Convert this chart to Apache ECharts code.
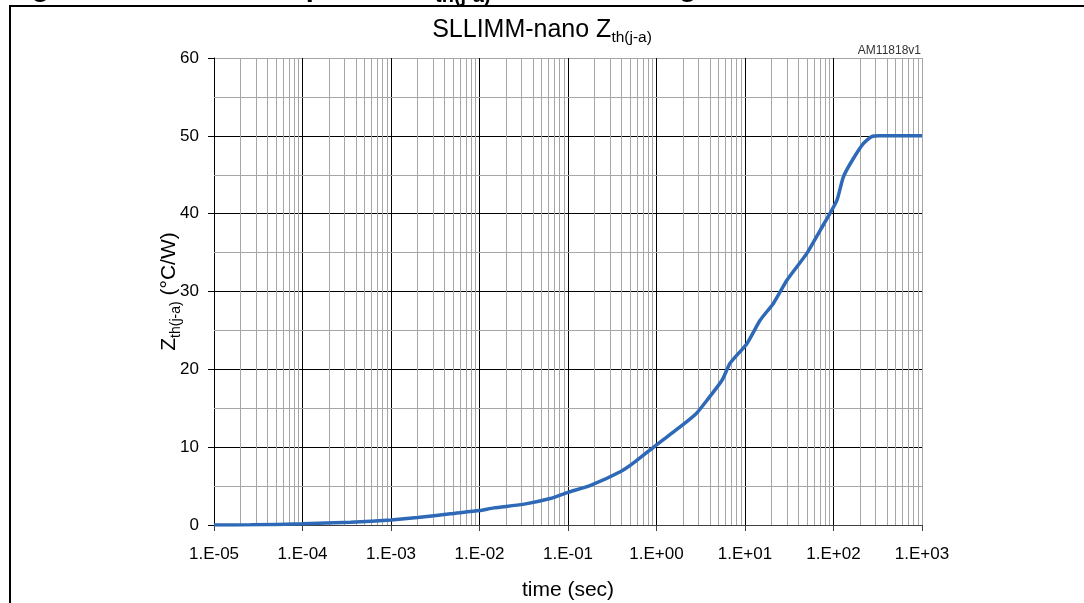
<!DOCTYPE html>
<html>
<head>
<meta charset="utf-8">
<script src="https://cdn.jsdelivr.net/npm/echarts@6/dist/echarts.min.js"></script>
<style>
  html, body { margin: 0; padding: 0; background: #fff; }
  #chart { width: 1084px; height: 603px; }
</style>
</head>
<body>
<div id="chart"></div>
<script>
// ---- data ----
const timeSec = [1e-5, 2.6e-5, 1e-4, 3.5e-4, 1e-3, 2e-3, 4.7e-3, 1e-2, 1.45e-2, 3.1e-2, 6.3e-2,
  0.1, 0.18, 0.4, 0.57, 1.0, 1.8, 2.8, 3.7, 5.5, 6.8, 10.5, 14.8, 21, 30, 50, 71, 91, 110,
  129, 160, 217, 270, 335, 1000];
const zthValues = [0.0, 0.02, 0.15, 0.35, 0.65, 0.95, 1.45, 1.85, 2.2, 2.65, 3.4,
  4.2, 5.1, 6.9, 8.1, 10.3, 12.5, 14.3, 16.0, 18.6, 20.8, 23.3, 26.3, 28.5, 31.5, 34.9, 37.9, 40.0, 41.8,
  44.7, 46.7, 49.0, 49.9, 50.0, 50.0];
const yMinorLines = [5, 15, 25, 35, 45, 55];
const decadeExponents = [-5, -4, -3, -2, -1, 0, 1, 2];
const minorMultipliers = [2, 3, 4, 5, 6, 7, 8, 9];

const seriesData = timeSec.map((t, i) => [t, zthValues[i]]);
const xMinorLines = [];
decadeExponents.forEach(e => minorMultipliers.forEach(m => xMinorLines.push(m * Math.pow(10, e))));

const FONT = '"Liberation Sans", Arial, sans-serif';
const chart = echarts.init(document.getElementById('chart'), null, { renderer: 'canvas' });

function fmtExp(v) {
  const e = Math.round(Math.log10(v));
  const s = e < 0 ? '-' : '+';
  const a = Math.abs(e);
  return '1.E' + s + (a < 10 ? '0' + a : '' + a);
}

const option = {
  backgroundColor: '#ffffff',
  animation: false,
  title: {
    text: '{m|SLLIMM-nano Z}{s|th(j-a)}',
    left: 'center',
    top: 14,
    padding: 0,
    textStyle: {
      fontWeight: 'normal',
      rich: {
        m: { fontFamily: FONT, fontSize: 25, fontWeight: 'normal', lineHeight: 32, color: '#000', verticalAlign: 'middle' },
        s: { fontFamily: FONT, fontSize: 15.5, fontWeight: 'normal', lineHeight: 15, color: '#000', verticalAlign: 'bottom' }
      }
    }
  },
  grid: { left: 214, right: 162, top: 58, bottom: 78, containLabel: false, outerBoundsMode: 'none' },
  xAxis: {
    type: 'log',
    logBase: 10,
    min: 1e-5,
    max: 1e3,
    splitNumber: 8,
    name: 'time (sec)',
    nameLocation: 'middle',
    nameGap: 55,
    nameMoveOverlap: false,
    nameTextStyle: { fontFamily: FONT, fontSize: 21, color: '#000' },
    axisLine: { show: true, lineStyle: { color: '#404040', width: 1 } },
    axisTick: { show: true, length: 6, inside: false, lineStyle: { color: '#404040' } },
    axisLabel: { fontFamily: FONT, fontSize: 17, color: '#000', margin: 21, formatter: fmtExp },
    splitLine: { show: true, lineStyle: { color: ['#000', '#000', '#000', '#000', '#000', '#000', '#000', '#000', '#a6a6a6'], width: 1 } },
    minorTick: { show: false },
    minorSplitLine: { show: false }
  },
  yAxis: {
    type: 'value',
    min: 0,
    max: 60,
    interval: 10,
    name: '{z|Z}{s|th(j-a)}{z| (°C/W)}',
    nameLocation: 'middle',
    nameGap: 31,
    nameMoveOverlap: false,
    nameTextStyle: {
      rich: {
        z: { fontFamily: FONT, fontSize: 21, lineHeight: 28, color: '#000', verticalAlign: 'middle' },
        s: { fontFamily: FONT, fontSize: 14, lineHeight: 14, color: '#000', verticalAlign: 'bottom' }
      }
    },
    axisLine: { show: true, lineStyle: { color: '#000', width: 1 } },
    axisTick: { show: true, length: 6, inside: false, lineStyle: { color: '#000' } },
    axisLabel: { fontFamily: FONT, fontSize: 17, color: '#000', margin: 15 },
    splitLine: { show: true, lineStyle: { color: ['#000', '#000', '#000', '#000', '#000', '#000', '#a6a6a6'], width: 1 } }
  },
  series: [
    {
      name: 'grid-minor',
      type: 'line',
      data: [],
      z: 1,
      silent: true,
      markLine: {
        silent: true,
        precision: 12,
        symbol: ['none', 'none'],
        label: { show: false },
        lineStyle: { color: '#a6a6a6', width: 1, type: 'solid' },
        data: xMinorLines.map(v => ({ xAxis: v })).concat(yMinorLines.map(v => ({ yAxis: v })))
      }
    },
    {
      name: 'Zth(j-a)',
      type: 'line',
      data: seriesData,
      z: 10,
      symbol: 'none',
      smooth: 0.2,
      lineStyle: { color: '#2e69b7', width: 3.5 }
    }
  ],
  graphic: [
    {
      type: 'rect', z: 100, silent: true,
      shape: { x: 10, y: 6, width: 1200, height: 700 },
      style: { fill: 'none', stroke: '#000', lineWidth: 2 }
    },
    {
      type: 'text', z: 90, silent: true, x: 6, y: -12,
      style: { text: 'Figure 22. Thermal impedance Z', font: 'bold 29px ' + FONT, fill: '#000', verticalAlign: 'middle', align: 'left' }
    },
    {
      type: 'text', z: 90, silent: true, x: 435, y: -4,
      style: { text: 'th(j-a)', font: 'bold 20px ' + FONT, fill: '#000', verticalAlign: 'middle', align: 'left' }
    },
    {
      type: 'text', z: 90, silent: true, x: 497, y: -12,
      style: { text: ' curve for single IGBT', font: 'bold 29px ' + FONT, fill: '#000', verticalAlign: 'middle', align: 'left' }
    },
    {
      type: 'text', z: 90, silent: true, right: 163, top: 45,
      style: { text: 'AM11818v1', font: '12px ' + FONT, fill: '#333', align: 'right' }
    }
  ]
};
chart.setOption(option);
</script>
</body>
</html>
